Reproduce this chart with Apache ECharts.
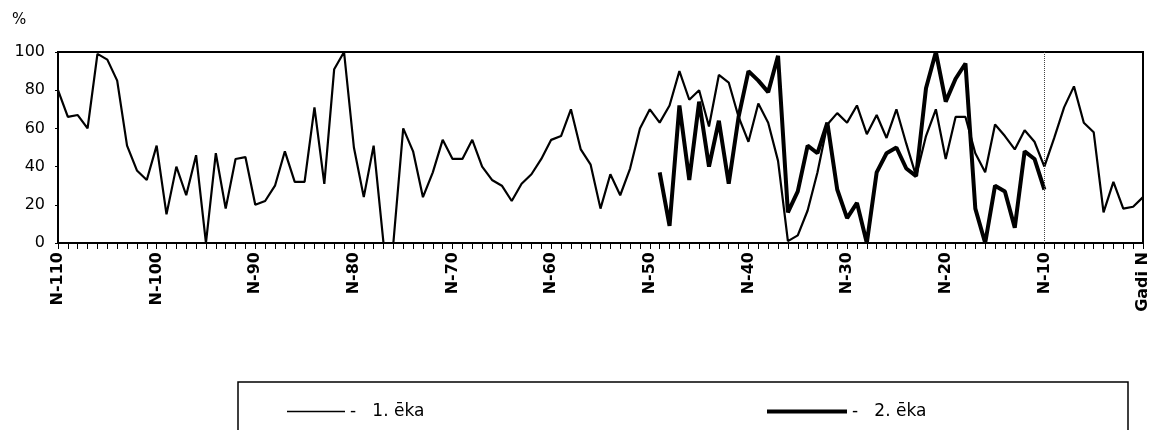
<!DOCTYPE html>
<html>
<head>
<meta charset="utf-8">
<script src="https://cdn.jsdelivr.net/npm/echarts@6/dist/echarts.min.js"></script>
<style>
html,body{margin:0;padding:0;background:#fff;}
#chart{width:1151px;height:430px;}
</style>
</head>
<body>
<div id="chart"></div>
<script>
// Categories: N-110 ... N-1, "Gadi N"
const categories = [];
for (let k = 110; k >= 1; k--) categories.push('N-' + k);
categories.push('Gadi N');

const seriesNames = ['1. ēka', '2. ēka'];
const yTicks = [0, 20, 40, 60, 80, 100];

// 1. ēka (thin line), N-110 .. N
const eka1 = [
  80, 66, 67, 60, 99, 96, 85, 51, 38, 33,
  51, 15, 40, 25, 46, 0, 47, 18, 44, 45,
  20, 22, 30, 48, 32, 32, 71, 31, 91, 100,
  50, 24, 51, 0, 0, 60, 48, 24, 37, 54,
  44, 44, 54, 40, 33, 30, 22, 31, 36, 44,
  54, 56, 70, 49, 41, 18, 36, 25, 39, 60,
  70, 63, 72, 90, 75, 80, 61, 88, 84, 66,
  53, 73, 63, 43, 1, 4, 17, 37, 62, 68,
  63, 72, 57, 67, 55, 70, 52, 35, 56, 70,
  44, 66, 66, 47, 37, 62, 56, 49, 59, 53,
  40, 55, 71, 82, 63, 58, 16, 32, 18, 19,
  24
];

// 2. ēka (thick line), N-49 .. N-10
const eka2Start = 61; // index of N-49
const eka2Values = [
  37, 9, 72, 33, 74, 40, 64, 31, 66, 90,
  85, 79, 98, 16, 27, 51, 47, 63, 28, 13,
  21, 0, 37, 47, 50, 39, 35, 81, 100, 74,
  86, 94, 18, 0, 30, 27, 8, 48, 44, 28
];
const eka2 = categories.map((c, i) => {
  const j = i - eka2Start;
  return (j >= 0 && j < eka2Values.length) ? eka2Values[j] : null;
});

const chart = echarts.init(document.getElementById('chart'));
const fontFamily = '"DejaVu Sans", "Liberation Sans", Arial, sans-serif';

chart.setOption({
  animation: false,
  backgroundColor: '#fff',
  textStyle: { fontFamily: fontFamily, color: '#000' },
  grid: {
    left: 58, right: 4, top: 52, bottom: 187,
    show: true, borderColor: '#000', borderWidth: 2, backgroundColor: 'transparent'
  },
  legend: [
    {
      data: [seriesNames[0]],
      left: 282, top: 398,
      itemWidth: 58, itemHeight: 20,
      icon: 'path://M0,9 L58,9 L58,10.5 L0,10.5 Z',
      itemStyle: { color: '#000' },
      textStyle: { fontSize: 17, color: '#000', fontFamily: fontFamily },
      formatter: function (n) { return '-   ' + n; }
    },
    {
      data: [seriesNames[1]],
      left: 762, top: 398,
      itemWidth: 80, itemHeight: 20,
      icon: 'path://M0,8 L80,8 L80,12 L0,12 Z',
      itemStyle: { color: '#000' },
      textStyle: { fontSize: 17, color: '#000', fontFamily: fontFamily },
      formatter: function (n) { return '-   ' + n; }
    }
  ],
  graphic: [
    {
      type: 'rect',
      shape: { x: 238, y: 382, width: 890, height: 70 },
      style: { fill: 'none', stroke: '#000', lineWidth: 1.5 },
      silent: true
    },
    {
      type: 'text',
      left: 12, top: 13,
      style: { text: '%', fontSize: 15, fill: '#000', fontFamily: fontFamily }
    }
  ],
  xAxis: {
    type: 'category',
    data: categories,
    boundaryGap: false,
    axisLine: { lineStyle: { color: '#000', width: 2 } },
    axisTick: { show: true, interval: 0, length: 6, lineStyle: { color: '#000', width: 1 } },
    axisLabel: {
      interval: function (i) { return i % 10 === 0; },
      rotate: 90,
      margin: 9,
      color: '#000',
      fontWeight: 'bold',
      fontSize: 16,
      fontFamily: fontFamily
    },
    splitLine: { show: false }
  },
  yAxis: {
    type: 'value',
    min: yTicks[0], max: yTicks[yTicks.length - 1], interval: 20,
    axisLine: { show: true, lineStyle: { color: '#000', width: 2 } },
    axisTick: { show: true, length: 3, lineStyle: { color: '#000' } },
    axisLabel: { color: '#000', fontSize: 16, margin: 13, fontFamily: fontFamily },
    splitLine: { show: false }
  },
  series: [
    {
      name: seriesNames[0],
      type: 'line',
      data: eka1,
      symbol: 'none',
      lineStyle: { color: '#000', width: 2.2 },
      itemStyle: { color: '#000' },
      markLine: {
        silent: true,
        symbol: 'none',
        label: { show: false },
        lineStyle: { color: '#444', type: 'dotted', width: 1 },
        data: [{ xAxis: 'N-10' }]
      }
    },
    {
      name: seriesNames[1],
      type: 'line',
      data: eka2,
      symbol: 'none',
      connectNulls: false,
      lineStyle: { color: '#000', width: 4 },
      itemStyle: { color: '#000' }
    }
  ]
});
</script>
</body>
</html>
